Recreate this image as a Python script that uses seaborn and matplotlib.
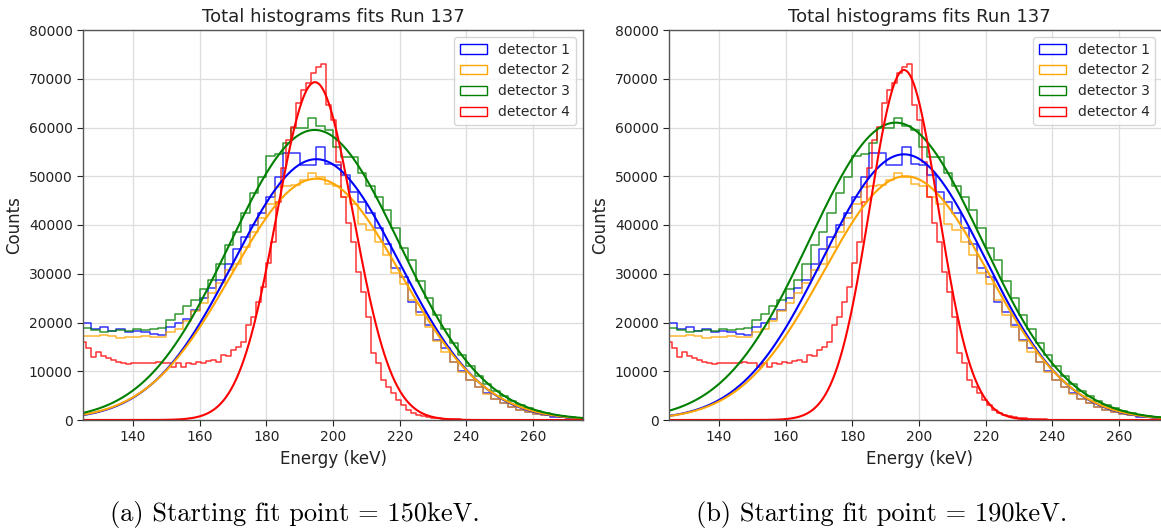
import numpy as np
import pandas as pd
import matplotlib
matplotlib.use("Agg")
import matplotlib.pyplot as plt
import seaborn as sns
from matplotlib.patches import Patch

# ---------------- data ----------------
# detectors 1-3: 2.5 keV bins starting at 125 keV
bin_start_123 = 125.0
bin_width_123 = 2.5
# detector 4: 1.5 keV bins starting at 124.5 keV
bin_start_4 = 124.5
bin_width_4 = 1.5

det1_counts = [20000, 18600, 19000, 18300, 18600, 18000, 18200, 18000, 17700, 17500,
               19100, 19800, 20800, 22600, 25000, 27000, 28700, 32100, 35000, 37500,
               40000, 42500, 45800, 49900, 54700, 54700, 52300, 52300, 56000, 52600,
               52300, 50200, 46800, 44800, 42400, 39300, 36200, 31100, 29400, 24300,
               22200, 19500, 16500, 14700, 12000, 10000, 8300, 6800, 5500, 4300,
               3400, 2700, 2100, 1600, 1250, 950, 700, 520, 380, 280]

det2_counts = [17300, 17200, 17400, 17300, 16900, 17100, 17000, 17200, 17100, 17000,
               18000, 18700, 20300, 22300, 24000, 26000, 28200, 30800, 32100, 35500,
               38600, 41400, 44400, 47700, 47900, 48200, 49200, 50700, 49900, 48500,
               47900, 45800, 44400, 40300, 39000, 36600, 33800, 30100, 28000, 24600,
               21500, 19000, 16300, 14000, 11800, 9900, 8200, 6700, 5400, 4400,
               3500, 2700, 2100, 1650, 1250, 950, 720, 540, 400, 300]

det3_counts = [18800, 18400, 18100, 18300, 18500, 18200, 18700, 18400, 18600, 18800,
               20600, 21700, 23400, 24600, 26800, 28700, 32000, 36000, 38600, 42400,
               46500, 49900, 54200, 54600, 56800, 59800, 59800, 61900, 60300, 59500,
               56100, 54000, 54000, 50600, 47900, 45800, 43100, 39300, 35200, 32800,
               28500, 25000, 21500, 18600, 15800, 13300, 11000, 9100, 7400, 6000,
               4900, 3900, 3050, 2400, 1850, 1400, 1050, 800, 600, 450]

det4_counts = [16070, 14700, 12990, 14020, 13130, 12700, 12300, 11960, 11620, 11490,
               11760, 11620, 11760, 11620, 11760, 11960, 11760, 11620, 10940, 11760,
               10940, 11760, 11490, 11960, 11620, 12090, 12300, 11960, 13330, 13100,
               14360, 15040, 16070, 19500, 21190, 24270, 27350, 32130, 36580,
               44780, 51610, 57430, 60160, 64950, 67680, 69050, 71100, 72470, 72950,
               64600, 61530, 52980, 45800, 40340,
               36580, 30420, 26320, 21190, 13670, 11620, 8200, 6840, 5470, 4100, 3080, 2050,
               1500, 1100, 800, 600, 450, 350, 270, 210, 160, 120, 100]

detector_labels = ["detector 1", "detector 2", "detector 3", "detector 4"]
detector_colors = ["blue", "orange", "green", "red"]

# Gaussian fit parameters (amplitude, mean, sigma) for each panel
fit_a_amp = [53500, 49500, 59500, 69300]
fit_a_mean = [195.0, 195.0, 194.5, 194.6]
fit_a_sigma = [24.8, 25.3, 25.5, 11.5]

fit_b_amp = [54500, 50000, 61000, 71800]
fit_b_mean = [195.5, 196.0, 193.0, 195.5]
fit_b_sigma = [24.4, 24.7, 25.8, 10.3]

panel_captions = ["(a) Starting fit point = 150keV.", "(b) Starting fit point = 190keV."]
title_text = "Total histograms fits Run 137"
x_ticks = [140, 160, 180, 200, 220, 240, 260]
y_ticks = [0, 10000, 20000, 30000, 40000, 50000, 60000, 70000, 80000]

# ---------------- plotting ----------------
sns.set_style("ticks")
plt.rcParams["font.family"] = ["DejaVu Sans"]

W, H = 1161, 529
fig = plt.figure(figsize=(W / 100, H / 100), dpi=100)

ax_w = 500 / W
ax_h = 390 / H
ax_b = (H - 420) / H
axes = [fig.add_axes([83 / W, ax_b, ax_w, ax_h]),
        fig.add_axes([669 / W, ax_b, ax_w, ax_h])]

hist_data = [det1_counts, det2_counts, det3_counts, det4_counts]
hist_starts = [bin_start_123] * 3 + [bin_start_4]
hist_widths = [bin_width_123] * 3 + [bin_width_4]
fits = [(fit_a_amp, fit_a_mean, fit_a_sigma), (fit_b_amp, fit_b_mean, fit_b_sigma)]

x_fit = np.linspace(125, 275, 800)

for p, ax in enumerate(axes):
    ax.grid(True, color="#dddddd", linewidth=0.9, zorder=0)
    for i in range(4):
        counts = np.asarray(hist_data[i], dtype=float)
        n = len(counts)
        lo = hist_starts[i]
        w = hist_widths[i]
        centers = lo + w * (np.arange(n) + 0.5)
        df = pd.DataFrame({"energy": centers, "counts": counts})
        sns.histplot(data=df, x="energy", weights="counts",
                     binwidth=w, binrange=(lo, lo + w * n),
                     element="step", fill=False, color=detector_colors[i],
                     linewidth=1.1, alpha=0.8, ax=ax)
    amp, mean, sig = fits[p]
    for i in range(4):
        y_fit = amp[i] * np.exp(-(x_fit - mean[i]) ** 2 / (2 * sig[i] ** 2))
        sns.lineplot(x=x_fit, y=y_fit, color=detector_colors[i], linewidth=1.5, ax=ax)

    ax.set_xlim(125, 275)
    ax.set_ylim(0, 80000)
    ax.set_xticks(x_ticks)
    ax.set_yticks(y_ticks)
    ax.tick_params(labelsize=10, colors="#222222", length=4)
    for s in ax.spines.values():
        s.set_color("#555555")
        s.set_linewidth(1.0)
    ax.set_title(title_text, fontsize=13, color="#222222")
    ax.set_xlabel("Energy (keV)", fontsize=12, color="#222222")
    ax.set_ylabel("Counts", fontsize=12, color="#222222")

    handles = [Patch(facecolor="none", edgecolor=c, linewidth=1.0) for c in detector_colors]
    anchor = (1.0, 1.0) if p == 0 else (0.986, 1.0)
    ax.legend(handles, detector_labels, loc="upper right", bbox_to_anchor=anchor,
              fontsize=10, frameon=True, framealpha=0.8, edgecolor="#cccccc")

caption_x = [294.7 / W, 882 / W]
for p in range(2):
    fig.text(caption_x[p], 1 - 515 / H, panel_captions[p], ha="center", va="center",
             fontsize=19, family="cmr10", color="black")

fig.savefig("out.png", dpi=100)
